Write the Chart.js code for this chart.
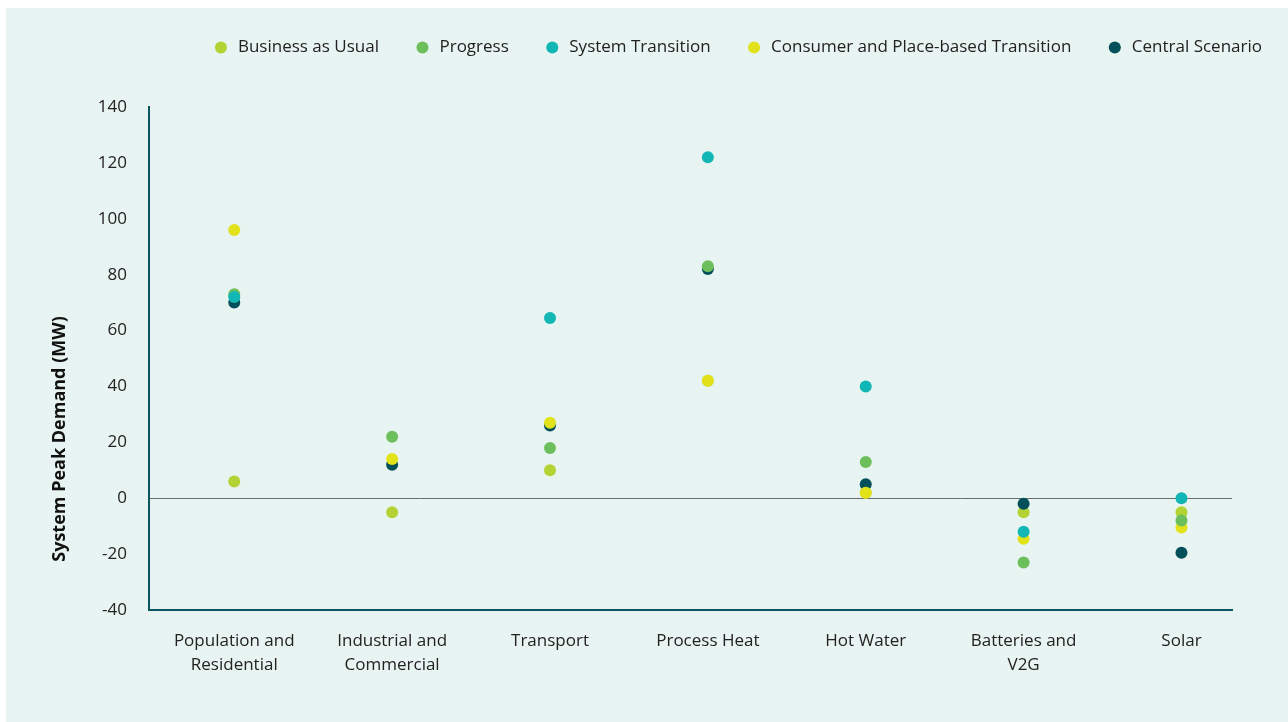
<!DOCTYPE html>
<html>
<head>
<meta charset="utf-8">
<script src="https://cdn.jsdelivr.net/npm/chart.js@4.4.0/dist/chart.umd.min.js"></script>
<style>
  html, body { margin: 0; padding: 0; background: #ffffff; overflow: hidden; }
  #panel { position: absolute; left: 6px; top: 8px; width: 1282px; height: 714px; background: #e8f4f1; }
  #chart { position: absolute; left: 0; top: -4px; }
</style>
</head>
<body>
<div id="panel"><canvas id="chart" width="1291" height="718"></canvas></div>
<script>
// categories and scenario values (MW)
const categories = [["Population and", "Residential"], ["Industrial and", "Commercial"], ["Transport"], ["Process Heat"], ["Hot Water"], ["Batteries and", "V2G"], ["Solar"]];
const businessAsUsual = [6, -5, 10, 42, 2, -5, -5];
const progress = [73, 22, 18, 83, 13, -23, -8];
const systemTransition = [72, null, 64.5, 122, 40, -12, 0];
const consumerTransition = [96, 14, 27, 42, 2, -14.5, -10.5];
const centralScenario = [70, 12, 26, 82, 5, -2, -19.5];
const yTicks = [-40, -20, 0, 20, 40, 60, 80, 100, 120, 140];
const yTitle = "System Peak Demand (MW)";

const toPoints = arr => arr.map((v, i) => ({ x: i, y: v }));

Chart.defaults.font.family = "'Open Sans', sans-serif";
Chart.defaults.color = "#222";

// force the legend box height so the plot starts where the reference does
const legendHeight = {
  id: "legendHeight",
  beforeInit(chart) {
    const fit = chart.legend.fit;
    chart.legend.fit = function () { fit.call(this); this.height = 103; };
  }
};

// y title sits lower than the middle of the axis in the reference
const yTitlePlugin = {
  id: "yTitlePlugin",
  afterDraw(chart) {
    const ctx = chart.ctx;
    ctx.save();
    ctx.translate(54, 435);
    ctx.rotate(-Math.PI / 2);
    ctx.font = "bold 18px 'Open Sans', sans-serif";
    ctx.fillStyle = "#111";
    ctx.textAlign = "center";
    ctx.textBaseline = "middle";
    ctx.fillText(yTitle, 0, 0);
    ctx.restore();
  }
};

function ds(label, values, color, order) {
  return {
    label: label,
    data: toPoints(values),
    backgroundColor: color,
    borderColor: color,
    borderWidth: 0,
    pointRadius: 6,
    pointHoverRadius: 6,
    order: order
  };
}

new Chart(document.getElementById("chart").getContext("2d"), {
  type: "scatter",
  data: {
    datasets: [
      ds("Business as Usual", businessAsUsual, "#b3d334", 4),
      ds("Progress", progress, "#6cbf5b", 1),
      ds("System Transition", systemTransition, "#12b6b4", 0),
      ds("Consumer and Place-based Transition", consumerTransition, "#e2e21a", 2),
      ds("Central Scenario", centralScenario, "#03505a", 3)
    ]
  },
  options: {
    responsive: false,
    animation: false,
    layout: { padding: 0 },
    plugins: {
      tooltip: { enabled: false },
      legend: {
        position: "top",
        align: "end",
        labels: {
          usePointStyle: true,
          pointStyle: "circle",
          boxWidth: 17,
          boxHeight: 8.5,
          padding: 35,
          color: "#222",
          font: { size: 17 },
          sort: (a, b) => a.datasetIndex - b.datasetIndex
        }
      }
    },
    scales: {
      x: {
        type: "linear",
        min: -0.54,
        max: 6.32,
        afterBuildTicks: scale => { scale.ticks = categories.map((c, i) => ({ value: i })); },
        afterFit: scale => { scale.height = 112; },
        grid: { display: false, drawTicks: false },
        border: { display: true, color: "#0b5560", width: 2 },
        ticks: {
          padding: 19,
          color: "#222",
          font: { size: 17, lineHeight: 1.41 },
          maxRotation: 0,
          autoSkip: false,
          callback: v => categories[v]
        }
      },
      y: {
        min: -40,
        max: 140,
        afterBuildTicks: scale => { scale.ticks = yTicks.map(v => ({ value: v })); },
        afterFit: scale => { scale.width = 143; },
        grid: {
          drawTicks: false,
          lineWidth: 1,
          color: ctx => (ctx.tick && ctx.tick.value === 0 ? "#6b6b6b" : "rgba(0,0,0,0)")
        },
        border: { display: true, color: "#0b5560", width: 2 },
        ticks: { padding: 22, color: "#222", font: { size: 17 } }
      },
      right: {
        position: "right",
        display: true,
        min: 0,
        max: 1,
        afterFit: scale => { scale.width = 65; },
        grid: { display: false, drawTicks: false },
        border: { display: false },
        ticks: { display: false }
      }
    }
  },
  plugins: [legendHeight, yTitlePlugin]
});
</script>
</body>
</html>
